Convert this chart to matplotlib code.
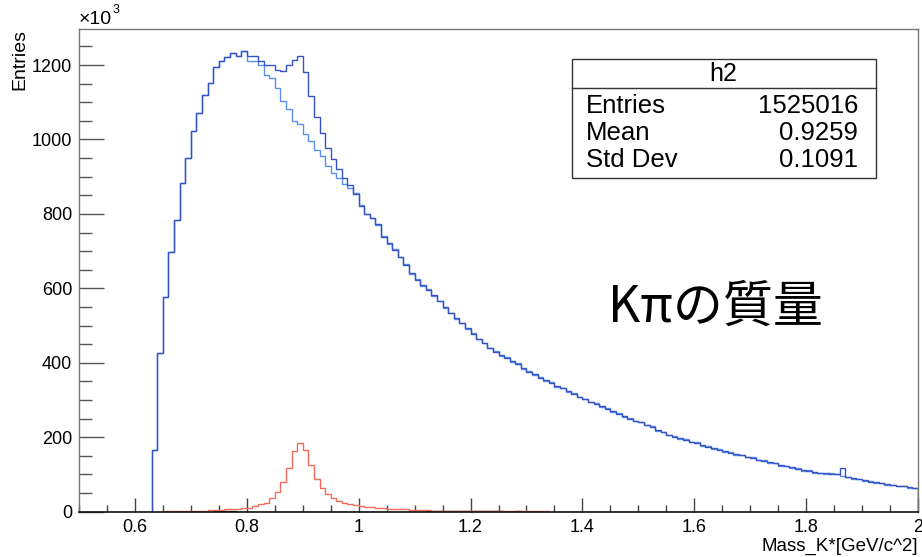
import matplotlib
matplotlib.use("Agg")
import matplotlib.pyplot as plt
from matplotlib.patches import Rectangle
from matplotlib.lines import Line2D
from matplotlib.ticker import MultipleLocator, FuncFormatter
import numpy as np

# ---------------------------------------------------------------------------
# Data (x 1000 entries per 0.01 GeV bin, 0.50 .. 2.00)
# ---------------------------------------------------------------------------
BIN_LO, BIN_HI, BIN_W = 0.50, 2.00, 0.01

# bins 0.50 .. 0.62 are empty for the blue histograms
blue_dark = [0] * 13 + [
    165, 427, 577, 699, 785, 883, 950, 1022, 1071, 1119,          # 0.63-0.72
    1151, 1195, 1211, 1221, 1231, 1224, 1238, 1224, 1224, 1210,   # 0.73-0.82
    1199, 1201, 1188, 1183, 1199, 1213, 1224, 1181, 1117, 1060,   # 0.83-0.92
    1017, 977, 947, 922, 897, 877, 853, 821, 801, 788,            # 0.93-1.02
    772, 738, 722, 702, 685, 664, 640, 622, 609, 596,             # 1.03-1.12
    582, 565, 549, 533, 520, 506, 493, 478, 465, 452,             # 1.13-1.22
    441, 430, 421, 413, 404, 397, 386, 375, 369, 360,             # 1.23-1.32
    354, 346, 338, 331, 324, 316, 309, 302, 296, 290,             # 1.33-1.42
    283, 277, 270, 263, 256, 250, 245, 240, 234, 228,             # 1.43-1.52
    219, 213, 207, 201, 197, 193, 188, 184, 179, 175,             # 1.53-1.62
    170, 166, 162, 158, 155, 151, 148, 144, 140, 136,             # 1.63-1.72
    134, 130, 126, 122, 119, 115, 112, 109, 106, 103,             # 1.73-1.82
    103, 102, 102, 117, 93, 90, 87, 84, 81, 79,                   # 1.83-1.92
    76, 74, 72, 70, 68, 66, 65,                                   # 1.93-1.99
]

blue_light = [0] * 13 + [
    165, 427, 577, 699, 785, 883, 950, 1022, 1071, 1119,
    1151, 1195, 1211, 1221, 1231, 1224, 1238, 1211, 1211, 1199,
    1172, 1166, 1137, 1103, 1081, 1050, 1041, 1016, 996, 973,
    956, 929, 911, 897, 880, 870, 855, 824, 799, 790,
    769, 741, 720, 705, 683, 666, 638, 625, 607, 598,
    580, 567, 547, 535, 518, 508, 491, 480, 463, 454,
    439, 432, 419, 415, 402, 399, 384, 377, 367, 362,
    352, 348, 336, 333, 322, 318, 307, 304, 294, 292,
    281, 279, 268, 265, 254, 252, 243, 242, 232, 230,
    217, 215, 205, 203, 195, 195, 186, 186, 177, 177,
    168, 168, 160, 160, 153, 153, 146, 146, 138, 138,
    132, 132, 124, 124, 117, 117, 110, 111, 104, 105,
    101, 103, 100, 96, 94, 89, 88, 83, 82, 78,
    77, 73, 73, 69, 69, 65, 65,
]

red_signal = [0] * 15 + [
    1, 1, 1, 2, 2, 2, 3, 3, 4,                                    # 0.65-0.73
    4, 5, 6, 6, 8, 9, 11, 15, 20, 24,                             # 0.74-0.83
    38, 54, 80, 118, 164, 185, 166, 125, 88, 63,                  # 0.84-0.93
    48, 36, 30, 24, 20, 17, 15, 13, 13, 9,                        # 0.94-1.03
    9, 8, 7, 6, 6, 5, 5, 4, 4, 3,                                 # 1.04-1.13
    3, 3, 2, 2, 2, 2, 1.5, 1.5, 1.5, 1.5,                         # 1.14-1.23
    1, 1, 1, 1, 1, 1, 1, 1, 1, 1,                                 # 1.24-1.33
] + [0.5] * 31 + [0] * 35                                          # 1.34-1.64, rest

black_small = [0] * 24 + [2, 1.5, 1, 1] + [0] * 34 + [1.5] * 14 + [0, 0, 2] + [0] * 71

stats_name = "h2"
stats_rows = [("Entries", "1525016"), ("Mean", "0.9259"), ("Std Dev", "0.1091")]

X_TITLE = "Mass_K*[GeV/c^2]"
Y_TITLE = "Entries"
NOTE = "Kπの質量"

# ---------------------------------------------------------------------------
W, H = 922, 557
FONT = "Liberation Sans"


def fx(x):
    return x / W


def fy(y):
    return 1 - y / H


def draw_hist(ax, vals, color, lw=1.0, z=2):
    vals = np.asarray(vals, dtype=float)
    edges = BIN_LO + BIN_W * np.arange(len(vals) + 1)
    nz = np.nonzero(vals)[0]
    i0, i1 = nz[0], nz[-1] + 1
    ax.stairs(vals[i0:i1], edges[i0:i1 + 1], baseline=0, color=color,
              lw=lw, zorder=z)


fig = plt.figure(figsize=(W / 100, H / 100), dpi=100)
fig.patch.set_facecolor("white")
ax = fig.add_axes([fx(79), fy(511.7), fx(918 - 79), (511.7 - 29.3) / H])

draw_hist(ax, black_small, "#222222", z=1.5)
draw_hist(ax, red_signal, "#f26b5b", z=2)
draw_hist(ax, blue_light, "#5b8ff2", z=2.1)
draw_hist(ax, blue_dark, "#3653c2", z=2.2)

ax.set_xlim(BIN_LO, BIN_HI)
ax.set_ylim(0, 1296)

ax.xaxis.set_major_locator(MultipleLocator(0.2))
ax.xaxis.set_minor_locator(MultipleLocator(0.05))
ax.yaxis.set_major_locator(MultipleLocator(200))
ax.yaxis.set_minor_locator(MultipleLocator(50))
ax.xaxis.set_major_formatter(FuncFormatter(lambda v, p: f"{v:g}"))
ax.yaxis.set_major_formatter(FuncFormatter(lambda v, p: f"{v:g}"))

ax.tick_params(axis="x", which="major", direction="in", length=10, width=1,
               color="#444444", pad=5, labelsize=13)
ax.tick_params(axis="x", which="minor", direction="in", length=5, width=1,
               color="#444444")
ax.tick_params(axis="y", which="major", direction="in", length=18, width=1,
               color="#555555", pad=5, labelsize=13)
ax.tick_params(axis="y", which="minor", direction="in", length=9, width=1,
               color="#555555")
for lab in ax.get_xticklabels() + ax.get_yticklabels():
    lab.set_fontfamily(FONT)

for side in ["top", "right", "left"]:
    ax.spines[side].set_color("#777777")
    ax.spines[side].set_linewidth(1)
ax.spines["bottom"].set_color("#111111")
ax.spines["bottom"].set_linewidth(1.2)

# axis titles, ROOT style (aligned to the end of the axis)
fig.text(fx(20), fy(29), Y_TITLE, rotation=90, ha="center", va="top",
         fontsize=14, family=FONT)
fig.text(fx(918), fy(546), X_TITLE, ha="right", va="center",
         fontsize=13.5, family=FONT)
fig.text(fx(79), fy(19), "×10", ha="left", va="center", fontsize=14, family=FONT)
fig.text(fx(113), fy(10), "3", ha="left", va="center", fontsize=9, family=FONT)

# stats box
bx0, by0, bx1, by1 = 572, 59, 876, 178
fig.patches.append(Rectangle((fx(bx0), fy(by1)), fx(bx1 - bx0), (by1 - by0) / H,
                             transform=fig.transFigure, facecolor="white",
                             edgecolor="#333333", lw=1, zorder=5))
fig.lines.append(Line2D([fx(bx0), fx(bx1)], [fy(88), fy(88)],
                        transform=fig.transFigure, color="#333333", lw=1,
                        zorder=6))
fig.text(fx(723), fy(74), stats_name, ha="center", va="center", fontsize=18,
         family=FONT, zorder=7)
for k, (name, val) in enumerate(stats_rows):
    yy = 106 + 27 * k
    fig.text(fx(586), fy(yy), name, ha="left", va="center", fontsize=18.5,
             family=FONT, zorder=7)
    fig.text(fx(858), fy(yy), val, ha="right", va="center", fontsize=18.5,
             family=FONT, zorder=7)

fig.text(fx(608), fy(308), NOTE, ha="left", va="center", fontsize=36,
         family=["Noto Sans CJK JP", "DejaVu Sans"])

fig.savefig("out.png", dpi=100, facecolor="white")
